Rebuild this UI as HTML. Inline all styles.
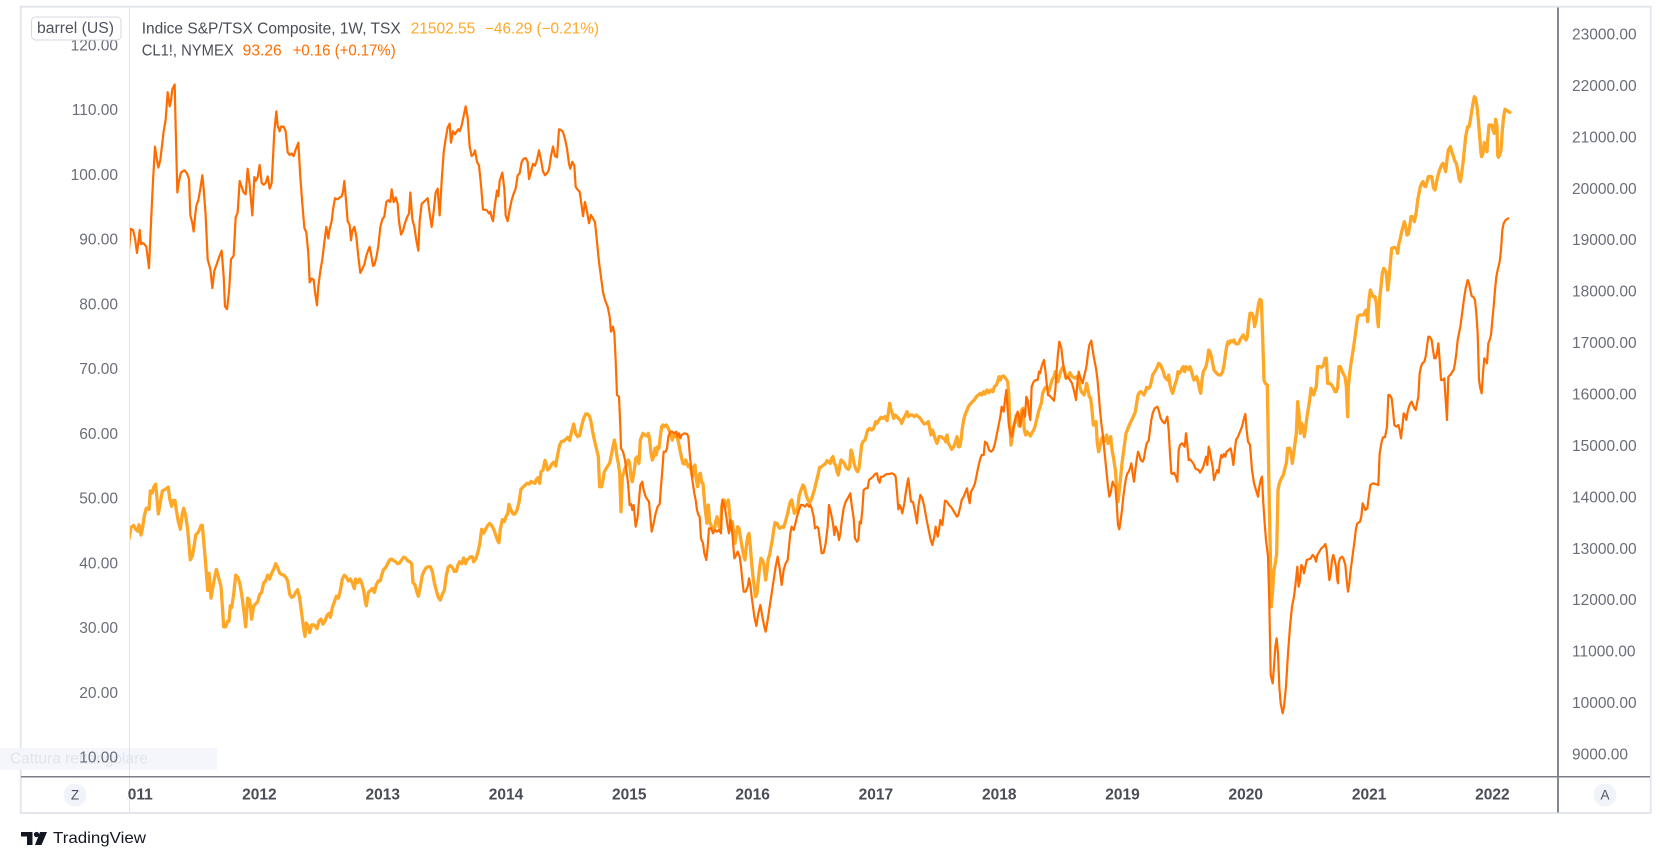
<!DOCTYPE html>
<html>
<head>
<meta charset="utf-8">
<style>
html,body{margin:0;padding:0;background:#fff;}
body{width:1660px;height:861px;overflow:hidden;position:relative;}
svg{position:absolute;left:0;top:0;}
text{font-family:"Liberation Sans",Arial,sans-serif;}
</style>
</head>
<body>
<svg width="1660" height="861" viewBox="0 0 1660 861" xmlns="http://www.w3.org/2000/svg">
  <defs>
    <clipPath id="plot"><rect x="130" y="8" width="1427.5" height="768"/></clipPath>
    <clipPath id="tclip"><rect x="127" y="778" width="1430" height="34"/></clipPath>
  </defs>

  <!-- outer frame -->
  <rect x="20.7" y="6.7" width="1630" height="806.3" fill="#fff" stroke="#e3e6ec" stroke-width="2"/>

  <!-- faint overlay tooltip bottom-left -->
  <rect x="0" y="748" width="217" height="22" fill="#f4f6fb"/>
  <text x="10" y="759" dominant-baseline="central" font-size="15.5" fill="#e0e5ee">Cattura rettangolare</text>

  <!-- separators -->
  <line x1="129.5" y1="7.5" x2="129.5" y2="812.5" stroke="#e0e3eb" stroke-width="1"/>
  <line x1="1558" y1="7.5" x2="1558" y2="812.5" stroke="#5d606b" stroke-width="1.5"/>
  <line x1="21" y1="776.8" x2="1650" y2="776.8" stroke="#7b7e88" stroke-width="1.5"/>

  <!-- series -->
  <g clip-path="url(#plot)" fill="none" stroke-linejoin="round" stroke-linecap="round">
    <!-- TSX (light orange, thicker) -->
    <g stroke="#ffa726" stroke-width="3.3">
      <polyline vector-effect="non-scaling-stroke" transform="translate(129,70) scale(0.33333,0.3827)" points="0,1225 6,1195 14,1190 20,1200 26,1205 30,1188 36,1215 40,1200 46,1165 52,1145 60,1148 64,1100 70,1105 74,1090 80,1082 84,1120 88,1160 94,1130 100,1100 110,1095 118,1090 122,1120 128,1140 132,1125 138,1125 142,1150 148,1180 154,1200 160,1160 164,1145 170,1165 176,1200 180,1240 184,1280 190,1270 196,1240 200,1215 206,1210 212,1200 216,1190 220,1190 224,1230 230,1290 236,1360 240,1315 246,1380 250,1360 256,1330 262,1305 270,1330 276,1350 280,1400 284,1455 290,1455 296,1440 300,1440 304,1400 308,1405 314,1370 320,1320 326,1325 332,1340 338,1370 344,1410 350,1455 356,1380 362,1385 368,1435 374,1400 380,1395 386,1390 392,1370 398,1365 404,1340 410,1335 416,1320 422,1330 428,1315 434,1305 440,1290 446,1300 452,1315 458,1318 464,1320 470,1325 476,1335 482,1370 488,1378 494,1375 500,1365 506,1358 512,1380 518,1420 524,1460 528,1480 532,1445 538,1455 542,1470 548,1450 556,1450 564,1460 570,1440 576,1435 582,1448 588,1440 594,1425 600,1420 604,1430 610,1405 616,1390 622,1375 628,1380 634,1360 640,1330 646,1320 652,1325 658,1335 664,1330 670,1340 676,1355 680,1330 686,1340 692,1330 698,1340 704,1360 708,1385 712,1400 718,1365 724,1360 730,1355 736,1365 742,1345 748,1335 754,1335 758,1320 764,1305 770,1300 776,1290 782,1280 788,1278 794,1282 800,1285 806,1290 812,1288 818,1280 824,1273 830,1275 836,1282 842,1285 848,1290 852,1340 858,1345 864,1365 868,1375 874,1350 880,1320 886,1308 892,1300 898,1298 904,1298 910,1310 916,1340 922,1360 928,1378 934,1385 940,1370 946,1360 952,1320 958,1298 964,1295 970,1300 976,1310 982,1310 986,1295 992,1285 998,1290 1004,1275 1010,1290 1014,1280 1018,1278 1024,1272 1030,1272 1034,1285 1040,1278 1046,1262 1052,1240 1058,1200 1064,1210 1070,1200 1076,1190 1082,1185 1088,1190 1094,1200 1100,1215 1106,1230 1110,1235 1114,1200 1120,1175 1126,1180 1132,1165 1136,1160 1140,1135 1146,1150 1152,1160 1158,1160 1164,1150 1170,1130 1176,1095 1182,1090 1188,1085 1194,1080 1200,1082 1206,1075 1212,1078 1218,1080 1222,1070 1228,1065 1232,1080 1236,1050 1242,1045 1248,1020 1252,1030 1256,1045 1262,1040 1268,1030 1274,1025 1280,1035 1286,1005 1292,980 1298,970 1304,970 1310,965 1316,960 1322,968 1328,945 1334,925 1340,950 1346,958 1352,955 1358,930 1364,910 1370,900"/>
      <polyline vector-effect="non-scaling-stroke" transform="translate(585,300) scale(0.33333)" points="2,342 8,342 14,350 18,365 22,390 28,420 34,445 40,470 42,520 44,560 50,560 54,540 58,515 64,505 70,495 74,490 78,470 84,440 88,420 92,440 96,470 100,490 104,520 108,635 112,530 116,520 120,505 126,490 130,480 134,490 138,530 142,545 148,510 152,475 158,470 162,490 166,420 170,410 174,400 180,405 186,408 190,400 194,420 198,460 202,480 206,470 210,445 214,465 218,440 222,445 226,410 230,380 234,375 238,380 244,375 250,385 256,400 262,420 266,400 270,410 276,410 280,425 284,445 290,475 294,490 298,492 302,480 306,490 310,500 314,495 318,510 322,530 326,500 330,495 334,540 338,560 342,525 346,520 350,548 354,550 358,600 362,640 366,670 370,615 374,665 378,675 384,690 388,690 392,665 396,650 400,670 406,690 410,620 414,600 418,600 422,620 426,610 430,600 434,640 438,690 442,665 446,700 450,730 454,700 458,680 462,685 466,710 470,735 476,765 480,780 484,740 488,710 492,700 496,740 500,790 504,830 508,860 512,890 516,880 520,840 524,800 528,775 532,780 536,790 542,840 546,810 550,775 554,765 558,740 562,720 566,690 570,668 576,670 580,680 584,685 590,680 596,682 600,670 604,655 608,640 612,620 616,605 620,600 624,620 628,640 632,635 638,625 642,590 648,570 654,555 658,560 662,580 668,598 674,608 678,600 682,590 688,570 694,545 700,520 704,502 710,500 716,495 722,490 726,482 730,485 736,490 740,475 744,470 748,490 752,495 756,515 760,525 764,500 768,480 774,485 778,490 782,500 786,505 790,508 794,500 798,450 802,460 806,485 810,500 814,510 818,515 822,505 826,470 830,435 834,425 840,420 844,405 848,390 854,385 860,390 866,385 872,365 876,370 882,360 888,352 894,355 900,350 906,362 910,340 914,310 918,330 922,340 926,355 930,345 934,348 940,355 946,360 950,370 956,355 962,345 966,335 970,350 976,345 982,345 988,350 994,345 1000,350 1006,355 1012,365 1018,372 1024,370 1030,365 1034,385 1038,405 1042,390 1046,400 1050,415 1056,430 1062,410 1068,410 1074,415 1078,415 1082,425 1086,405 1090,430 1096,440 1100,448 1106,440 1110,430 1116,410 1120,440 1124,440 1128,420 1132,385 1136,360 1140,345 1146,330 1150,320 1156,312 1162,305 1168,300 1174,290 1180,285 1186,280 1190,285 1196,275 1200,282 1206,270 1212,278 1218,270 1224,275 1228,260 1234,255 1238,245 1242,230 1246,240 1250,230 1256,228 1262,235 1268,245 1272,290 1274,360 1278,435 1282,410 1286,380 1290,365 1294,345 1298,360 1302,378 1306,365 1310,330 1314,325 1318,390 1322,405 1326,395 1330,400 1336,408 1340,400 1346,390 1350,380 1356,355 1362,330"/>
      <polyline vector-effect="non-scaling-stroke" transform="translate(1040,270) scale(0.33333)" points="-3,420 4,400 8,370 14,355 20,350 26,365 32,345 36,330 42,320 46,305 50,320 54,335 58,320 62,305 66,295 70,290 74,305 78,325 82,320 86,315 90,308 96,320 100,322 106,325 110,320 116,325 120,352 124,365 128,370 132,375 136,360 140,340 144,360 148,380 152,385 156,420 160,465 164,465 168,455 172,520 176,545 180,530 184,510 188,500 192,515 196,510 200,495 204,520 208,510 212,500 216,540 220,560 226,600 230,650 234,695 238,660 242,620 246,580 250,550 254,520 258,490 262,480 268,465 274,452 280,440 286,425 290,400 294,375 298,368 302,365 308,370 312,375 316,365 320,352 326,355 330,350 334,335 338,315 344,305 350,295 356,280 362,285 366,295 370,305 374,320 378,325 382,330 386,315 390,345 394,360 398,370 402,355 406,340 410,330 414,305 418,310 422,305 426,295 430,290 434,305 438,290 442,295 446,298 450,290 454,302 458,318 462,330 466,325 470,320 474,335 478,355 482,370 486,330 490,305 494,298 498,290 502,270 506,240 510,245 514,260 518,280 522,300 526,305 530,310 536,315 542,315 548,305 552,285 556,255 560,230 564,215 568,220 572,212 578,215 582,210 586,220 590,222 596,220 600,210 606,200 610,195 614,205 618,210 622,200 626,160 630,130 636,130 640,140 644,170 648,150 652,125 656,100 660,88 664,92 668,200 672,330 676,340 682,345 686,600 690,800 694,1010 698,960 702,900 706,880 710,850 714,660 718,640 724,625 730,615 736,590"/>
      <polyline vector-effect="non-scaling-stroke" transform="translate(1285,80) scale(0.33333)" points="1,1160 4,1150 8,1105 14,1105 18,1120 22,1150 26,1120 30,1090 34,1060 38,965 42,1000 46,1060 50,1030 54,1040 58,1070 62,1040 66,1010 70,985 74,960 78,925 82,940 86,945 90,930 94,920 98,860 104,860 110,862 116,855 120,835 124,835 128,910 134,910 140,915 146,925 150,935 154,935 158,920 162,860 166,860 170,870 174,880 180,890 184,920 188,1010 190,920 194,880 198,850 202,825 206,800 210,770 214,740 218,710 224,705 230,705 236,705 240,695 244,690 248,725 252,660 256,630 260,640 264,650 270,650 274,670 278,725 280,740 284,655 288,620 292,580 296,565 300,570 304,580 308,630 312,600 316,550 320,505 328,502 334,505 338,520 342,490 346,475 350,455 354,440 358,425 362,440 366,465 370,462 374,440 378,410 382,410 388,425 394,395 398,360 402,340 406,320 410,310 414,305 418,318 422,320 426,305 430,290 436,290 440,290 446,325 450,330 454,310 458,290 462,275 466,265 470,255 474,250 478,260 482,275 486,240 490,210 496,200 500,215 504,225 510,245 514,250 518,270 522,295 526,305 530,280 534,250 538,210 542,170 546,150 548,140 552,140 556,120 560,95 564,70 568,50 572,55 576,80 580,120 584,170 588,220 590,230 594,220 598,188 602,195 606,215 608,180 612,135 616,135 620,135 624,150 628,160 632,118 636,140 638,225 640,232 644,225 648,210 652,150 656,110 660,88 664,90 668,93 672,96 675,97"/>
    </g>
    <!-- CL1! (dark orange, thinner) -->
    <g stroke="#ff6d00" stroke-width="2.2">
      <polyline vector-effect="non-scaling-stroke" transform="translate(129,70) scale(0.33333,0.3827)" points="0,470 5,415 12,418 18,440 24,478 28,450 32,418 36,455 40,452 46,455 52,462 56,490 60,518 66,400 72,290 78,200 82,225 88,255 94,235 100,190 104,160 110,130 116,58 122,95 126,80 130,50 137,38 140,150 145,320 150,290 156,268 166,262 174,270 180,285 184,380 190,400 194,422 198,385 202,355 208,340 214,310 220,275 224,310 230,380 236,495 244,520 250,570 256,525 262,510 270,490 278,472 284,540 288,618 294,625 300,580 306,495 314,485 320,385 326,372 332,290 338,305 344,320 350,325 356,258 362,300 370,380 376,280 380,290 386,280 392,248 398,295 404,300 410,295 416,278 422,310 428,295 432,230 436,160 442,108 446,145 452,160 456,148 464,148 470,160 476,215 482,222 488,218 494,225 500,208 508,190 514,280 520,350 526,412 532,425 538,480 542,555 548,545 554,548 558,580 564,615 568,565 574,525 580,495 586,450 592,410 598,440 602,415 608,395 612,365 618,335 626,338 632,333 638,330 642,318 646,290 652,350 656,395 662,405 666,445 670,420 676,410 682,435 688,488 694,530 700,520 706,508 712,485 718,470 722,462 728,490 732,512 736,510 742,490 748,460 754,410 760,390 766,383 772,345 778,340 784,345 788,312 794,345 800,333 806,350 810,395 816,430 822,420 828,400 834,385 840,375 844,320 850,390 856,410 862,445 868,472 872,395 878,350 884,345 890,340 896,335 902,375 908,410 914,370 920,320 926,310 932,380 938,290 944,215 950,180 956,150 962,140 966,190 972,160 978,168 982,162 988,155 992,160 998,145 1004,120 1010,95 1016,125 1022,200 1028,225 1034,220 1038,210 1044,240 1050,250 1056,300 1062,365 1068,365 1074,367 1080,375 1084,370 1088,385 1092,395 1098,350 1104,315 1108,330 1112,290 1120,268 1126,310 1130,380 1136,395 1142,365 1148,340 1154,323 1160,310 1166,275 1172,270 1178,240 1184,232 1190,230 1196,240 1200,285 1206,265 1212,245 1218,250 1224,235 1230,210 1236,235 1242,265 1248,275 1254,270 1260,260 1266,225 1272,200 1278,225 1284,228 1290,155 1296,157 1302,162 1308,180 1314,205 1320,245 1324,258 1330,240 1336,250 1340,305 1346,313 1352,318 1358,355 1362,382 1368,345 1374,370 1380,400"/>
      <polyline vector-effect="non-scaling-stroke" points="589,223.1 591,215 595,222 599,262 603,292 605,300"/>
      <polyline vector-effect="non-scaling-stroke" transform="translate(585,300) scale(0.33333)" points="60,0 68,20 74,50 78,95 84,80 88,100 92,180 96,285 102,290 106,380 108,445 114,455 120,480 124,510 128,540 130,560 134,615 138,612 142,630 146,615 152,680 158,650 162,600 166,555 172,545 176,570 182,590 188,600 192,605 196,650 200,695 206,670 212,640 218,620 224,612 228,560 232,510 236,455 242,455 246,445 250,410 256,395 262,395 268,400 274,395 278,410 282,400 286,415 290,405 298,400 306,402 310,410 314,460 318,500 322,540 328,580 332,600 336,630 340,645 344,650 348,715 354,730 358,760 364,780 368,740 372,685 378,685 384,700 390,690 396,695 402,690 408,700 412,600 416,610 420,625 424,650 428,680 432,700 436,660 440,680 444,725 448,775 454,765 458,755 464,770 468,800 472,840 476,875 482,875 488,860 492,835 496,855 500,890 504,920 508,950 514,978 520,940 526,915 532,950 538,980 542,995 548,960 554,920 560,880 566,840 572,800 578,770 584,805 590,855 596,810 602,790 608,780 612,740 616,700 620,680 626,690 630,675 636,650 642,630 648,615 654,615 660,620 666,612 672,620 676,615 680,625 686,650 690,685 696,680 700,685 706,730 710,760 716,758 722,730 728,680 732,615 738,640 744,670 748,705 752,680 758,695 762,720 766,700 770,665 776,625 782,605 788,595 796,580 800,615 806,655 810,715 816,725 820,720 824,665 828,670 832,630 836,570 842,565 848,565 852,540 858,535 864,530 870,522 876,520 880,540 884,548 888,530 894,530 900,525 906,522 912,522 920,520 926,522 932,530 936,575 940,628 944,615 948,625 952,640 958,610 962,580 966,555 970,535 974,570 978,605 984,605 990,635 996,670 1000,620 1006,585 1012,595 1018,620 1024,655 1030,685 1036,715 1042,735 1048,710 1052,680 1058,710 1062,690 1066,660 1072,675 1076,640 1080,602 1086,605 1092,615 1098,620 1104,630 1110,640 1116,650 1120,645 1126,620 1130,600 1136,590 1142,575 1146,565 1150,590 1154,610 1158,575 1164,565 1170,550 1176,520 1180,500 1186,475 1190,465 1196,465 1200,425 1206,430 1212,450 1218,455 1224,450 1230,430 1236,400 1240,380 1246,350 1250,320 1256,335 1260,300 1264,270 1268,330 1272,380 1276,400 1280,410 1286,380 1292,355 1298,335 1302,350 1306,380 1310,350 1314,330 1320,350 1324,290 1328,300 1332,340 1336,360 1340,260 1346,245 1352,240 1358,240 1362,215"/>
      <polyline vector-effect="non-scaling-stroke" transform="translate(1040,270) scale(0.33333)" points="-3,305 0,310 6,285 12,270 16,300 20,340 24,375 30,378 36,385 42,392 46,360 50,300 54,250 58,215 64,235 68,270 72,300 78,325 84,320 90,330 96,340 100,355 104,370 108,390 112,340 116,305 120,320 124,330 128,340 132,320 136,305 140,285 144,250 148,225 154,212 158,240 162,265 168,295 172,325 176,370 180,420 184,460 188,490 192,530 196,570 200,610 204,650 208,680 212,668 218,635 222,645 226,650 230,700 234,765 238,778 242,750 246,720 250,680 254,650 258,625 262,610 266,605 270,595 274,580 278,610 282,635 286,600 290,570 294,545 298,555 302,570 308,575 312,565 316,540 320,520 326,512 330,480 334,450 338,430 344,415 352,410 356,420 362,445 368,455 374,460 378,450 382,440 386,480 390,550 394,610 398,612 402,608 408,620 412,635 416,540 420,525 426,520 430,525 434,530 438,490 442,525 446,570 450,568 456,575 460,580 466,595 470,598 476,600 480,608 486,598 490,590 494,575 498,560 502,585 506,530 510,545 514,570 518,590 522,630 528,610 532,600 536,608 540,575 544,555 548,562 552,552 556,560 560,545 566,540 572,535 576,555 580,585 584,545 588,510 594,500 600,485 606,470 612,445 616,432 620,480 624,515 630,525 636,600 642,640 648,660 654,680 658,650 662,630 666,620 670,700 674,760 678,810 684,860 688,1000 692,1215 698,1240 702,1190 706,1130 710,1105 714,1150 718,1250 722,1300 728,1330 732,1310 738,1250 744,1150"/>
      <polyline vector-effect="non-scaling-stroke" transform="translate(1280,440) scale(0.33333)" points="24,640 30,560 36,500 42,470 48,420 52,380 56,440 60,420 64,375 68,380 72,400 76,380 80,360 86,358 92,355 98,345 104,352 108,365 112,345 118,335 124,325 130,320 136,312 140,330 144,380 148,420 152,400 156,360 160,345 164,360 168,380 172,420 174,430 176,370 180,355 186,350 190,355 196,375 200,420 204,455 208,430 212,390 216,360 220,330 224,300 228,265 232,250 240,245 244,230 248,190 252,200 256,210 262,205"/>
      <polyline vector-effect="non-scaling-stroke" transform="translate(1285,80) scale(0.33333)" points="247,1285 250,1260 256,1215 264,1210 272,1212 280,1215 284,1120 290,1085 294,1072 300,1072 306,1040 310,945 314,945 320,955 324,990 328,1035 334,1040 340,1035 344,1050 348,1075 352,1040 356,1000 360,1005 364,1020 368,995 372,980 376,970 380,965 384,975 388,985 392,990 396,970 400,950 404,880 408,860 412,850 418,845 422,830 426,800 430,770 434,770 440,780 444,810 448,835 452,835 456,820 460,790 464,840 468,900 474,900 478,895 482,960 486,1020 490,890 496,885 502,875 506,870 510,850 514,820 518,780 522,760 526,740 530,710 534,680 538,650 542,625 548,600 552,610 556,630 560,648 566,652 570,660 574,700 578,760 582,900 586,925 590,940 594,880 598,835 602,840 606,850 610,790 614,780 618,765 622,720 626,680 630,630 634,590 638,570 644,545 648,510 652,450 656,430 662,420 670,415"/>
    </g>
  </g>

  <!-- legend -->
  <g font-size="15.5" dominant-baseline="central">
    <text x="141.7" y="29" fill="#4a4d57" textLength="259" lengthAdjust="spacingAndGlyphs">Indice S&amp;P/TSX Composite, 1W, TSX</text>
    <text x="410.7" y="29" fill="#ffa726" textLength="64.6" lengthAdjust="spacingAndGlyphs">21502.55</text>
    <text x="485" y="29" fill="#ffa726" textLength="114" lengthAdjust="spacingAndGlyphs">−46.29 (−0.21%)</text>
    <text x="141.7" y="51" fill="#4a4d57" textLength="92" lengthAdjust="spacingAndGlyphs">CL1!, NYMEX</text>
    <text x="242.7" y="51" fill="#ff6d00" textLength="39" lengthAdjust="spacingAndGlyphs">93.26</text>
    <text x="292.7" y="51" fill="#ff6d00" textLength="103" lengthAdjust="spacingAndGlyphs">+0.16 (+0.17%)</text>
  </g>

  <!-- left axis labels -->
  <g font-size="15.5" fill="#6a6d78" text-anchor="end" dominant-baseline="central">
    <text x="118" y="46">120.00</text>
    <text x="118" y="110.7">110.00</text>
    <text x="118" y="175.5">100.00</text>
    <text x="118" y="240.2">90.00</text>
    <text x="118" y="304.9">80.00</text>
    <text x="118" y="369.7">70.00</text>
    <text x="118" y="434.4">60.00</text>
    <text x="118" y="499.1">50.00</text>
    <text x="118" y="563.8">40.00</text>
    <text x="118" y="628.6">30.00</text>
    <text x="118" y="693.3">20.00</text>
    <text x="118" y="758">10.00</text>
  </g>

  <!-- barrel (US) box -->
  <rect x="31.5" y="17" width="89.5" height="23" rx="4" ry="4" fill="#fff" stroke="#d6d9e0" stroke-width="1"/>
  <text x="37" y="28.5" font-size="15.5" fill="#50535e" dominant-baseline="central" textLength="77" lengthAdjust="spacingAndGlyphs">barrel (US)</text>

  <!-- right axis labels -->
  <g font-size="15.5" fill="#6a6d78" dominant-baseline="central">
    <text x="1572" y="35">23000.00</text>
    <text x="1572" y="86.4">22000.00</text>
    <text x="1572" y="137.9">21000.00</text>
    <text x="1572" y="189.3">20000.00</text>
    <text x="1572" y="240.7">19000.00</text>
    <text x="1572" y="292.2">18000.00</text>
    <text x="1572" y="343.6">17000.00</text>
    <text x="1572" y="395">16000.00</text>
    <text x="1572" y="446.4">15000.00</text>
    <text x="1572" y="497.9">14000.00</text>
    <text x="1572" y="549.3">13000.00</text>
    <text x="1572" y="600.7">12000.00</text>
    <text x="1572" y="652.2">11000.00</text>
    <text x="1572" y="703.6">10000.00</text>
    <text x="1572" y="755">9000.00</text>
  </g>

  <!-- time axis labels -->
  <g font-size="15.5" font-weight="bold" fill="#4a4d57" text-anchor="middle" dominant-baseline="central">
    <text x="136" y="795" clip-path="url(#tclip)">2011</text>
    <text x="259.4" y="795">2012</text>
    <text x="382.7" y="795">2013</text>
    <text x="506" y="795">2014</text>
    <text x="629.3" y="795">2015</text>
    <text x="752.6" y="795">2016</text>
    <text x="875.9" y="795">2017</text>
    <text x="999.2" y="795">2018</text>
    <text x="1122.5" y="795">2019</text>
    <text x="1245.8" y="795">2020</text>
    <text x="1369.1" y="795">2021</text>
    <text x="1492.4" y="795">2022</text>
  </g>

  <!-- Z / A buttons -->
  <circle cx="75" cy="795" r="11.5" fill="#f0f3fa"/>
  <text x="75" y="795" font-size="13.5" fill="#50535e" text-anchor="middle" dominant-baseline="central">Z</text>
  <circle cx="1605" cy="795" r="11.5" fill="#f0f3fa"/>
  <text x="1605" y="795" font-size="13.5" fill="#50535e" text-anchor="middle" dominant-baseline="central">A</text>

  <!-- TradingView logo -->
  <g fill="#131722">
    <rect x="21" y="832" width="11.5" height="4.5"/>
    <rect x="27" y="832" width="5.5" height="13"/>
    <circle cx="36.5" cy="834.5" r="2.6"/>
    <polygon points="40,832 47,832 41.5,845 35,845"/>
  </g>
  <text x="53" y="838.5" font-size="16" fill="#131722" dominant-baseline="central" textLength="93" lengthAdjust="spacingAndGlyphs">TradingView</text>
</svg>
</body>
</html>
